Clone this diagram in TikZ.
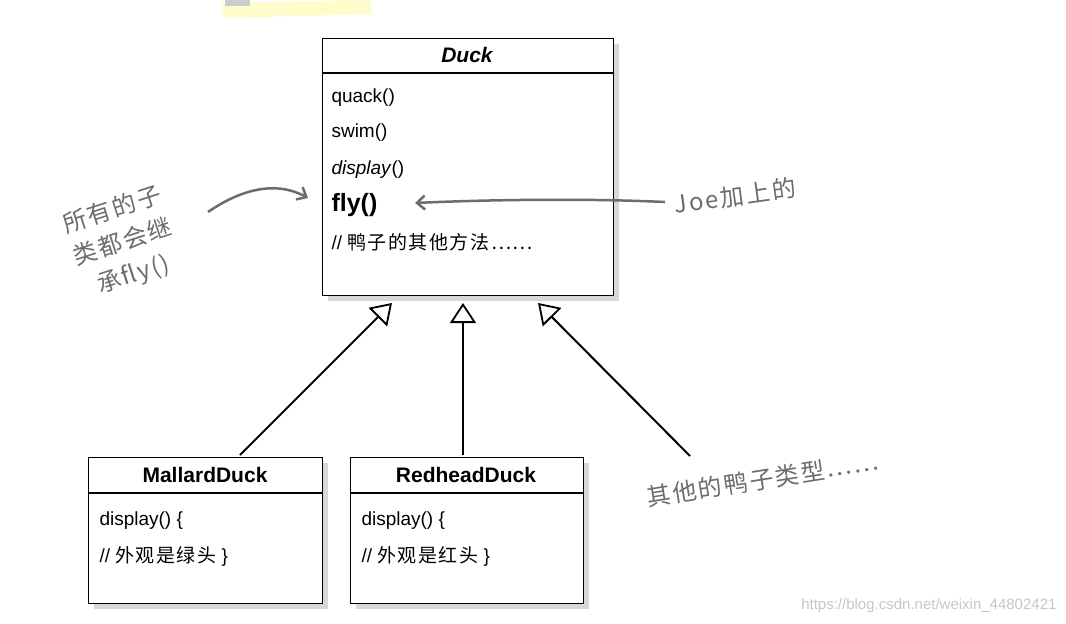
\documentclass[tikz,border=0pt]{standalone}
\usepackage{fontspec}
\setmainfont{Liberation Sans}
\newfontfamily\cjk[LetterSpace=8]{Noto Sans CJK SC}
\usetikzlibrary{arrows.meta,shadows}
\begin{document}
\begin{tikzpicture}[x=1pt,y=-1pt,
  box/.style={draw,line width=1.2pt,fill=white,drop shadow={shadow xshift=5pt,shadow yshift=-5pt,fill=gray!60}},
  txt/.style={anchor=west,font=\fontsize{19}{22}\selectfont},
  hand/.style={text=gray!85!black,font=\cjk\fontsize{24}{34}\selectfont,align=center},
  inh/.style={line width=2pt,-{Triangle[open,length=20pt,width=26pt,line width=1.8pt]}},
  note/.style={draw=gray!85!black,line width=2.5pt,-{Straight Barb[length=8pt,width=14pt]}}]
\useasboundingbox (0,0) rectangle (1066,624);
\fill[yellow!20] (222,3) -- (370,0) -- (372,14) -- (224,18) -- cycle;
\fill[gray!40] (225,0) rectangle (250,6);
% Duck
\node[box,minimum width=291pt,minimum height=257pt,anchor=north west] (duck) at (322,38) {};
\draw[line width=1.2pt] (322,73) -- (613,73);
\node[font=\bfseries\itshape\fontsize{21}{24}\selectfont] (dn) at (467,55) {Duck};
\node[txt] (q) at (328,98) {quack()};
\node[txt] (s) at (328,133) {swim()};
\node[txt] (d) at (328,170) {\textit{display}()};
\node[txt,font=\bfseries\fontsize{25}{28}\selectfont] (f) at (328,205) {fly()};
\node[txt] (o) at (328,242) {// {\cjk 鸭子的其他方法……}};
% Mallard
\node[box,minimum width=234pt,minimum height=146pt,anchor=north west] (m) at (88,457) {};
\draw[line width=1.2pt] (88,493) -- (322,493);
\node[font=\bfseries\fontsize{21}{24}\selectfont] (mn) at (205,475) {MallardDuck};
\node[txt] (m1) at (96,521) {display() \{};
\node[txt] (m2) at (96,556) {// {\cjk 外观是绿头} \}};
% Redhead
\node[box,minimum width=233pt,minimum height=146pt,anchor=north west] (r) at (350,457) {};
\draw[line width=1.2pt] (350,493) -- (583,493);
\node[font=\bfseries\fontsize{21}{24}\selectfont] (rn) at (466,475) {RedheadDuck};
\node[txt] (r1) at (358,521) {display() \{};
\node[txt] (r2) at (358,556) {// {\cjk 外观是红头} \}};
% inheritance
\coordinate (t1) at (392,303);
\coordinate (t2) at (463,303);
\coordinate (t3) at (538,303);
\coordinate (s1) at (240,455);
\coordinate (s2) at (463,455);
\coordinate (s3) at (690,456);
\draw[inh] (s1) -- (t1);
\draw[inh] (s2) -- (t2);
\draw[inh] (s3) -- (t3);
% notes
\node[hand,rotate=18] (n1) at (123,243) {所有的子\\类都会继\\承fly()};
\coordinate (a1s) at (208,212);
\coordinate (a1e) at (308,198);
\draw[note] (a1s) .. controls (240,190) and (275,180) .. (a1e);
\node[hand,rotate=8] (n2) at (735,196) {Joe加上的};
\coordinate (a2s) at (665,202);
\coordinate (a2e) at (415,203);
\draw[note] (a2s) .. controls (580,198) and (480,200) .. (a2e);
\node[hand,rotate=9] (n3) at (763,479) {其他的鸭子类型……};
\node[text=gray!45,font=\fontsize{15}{17}\selectfont,anchor=east] (wm) at (1060,606) {https://blog.csdn.net/weixin\_44802421};
\end{tikzpicture}
\end{document}
